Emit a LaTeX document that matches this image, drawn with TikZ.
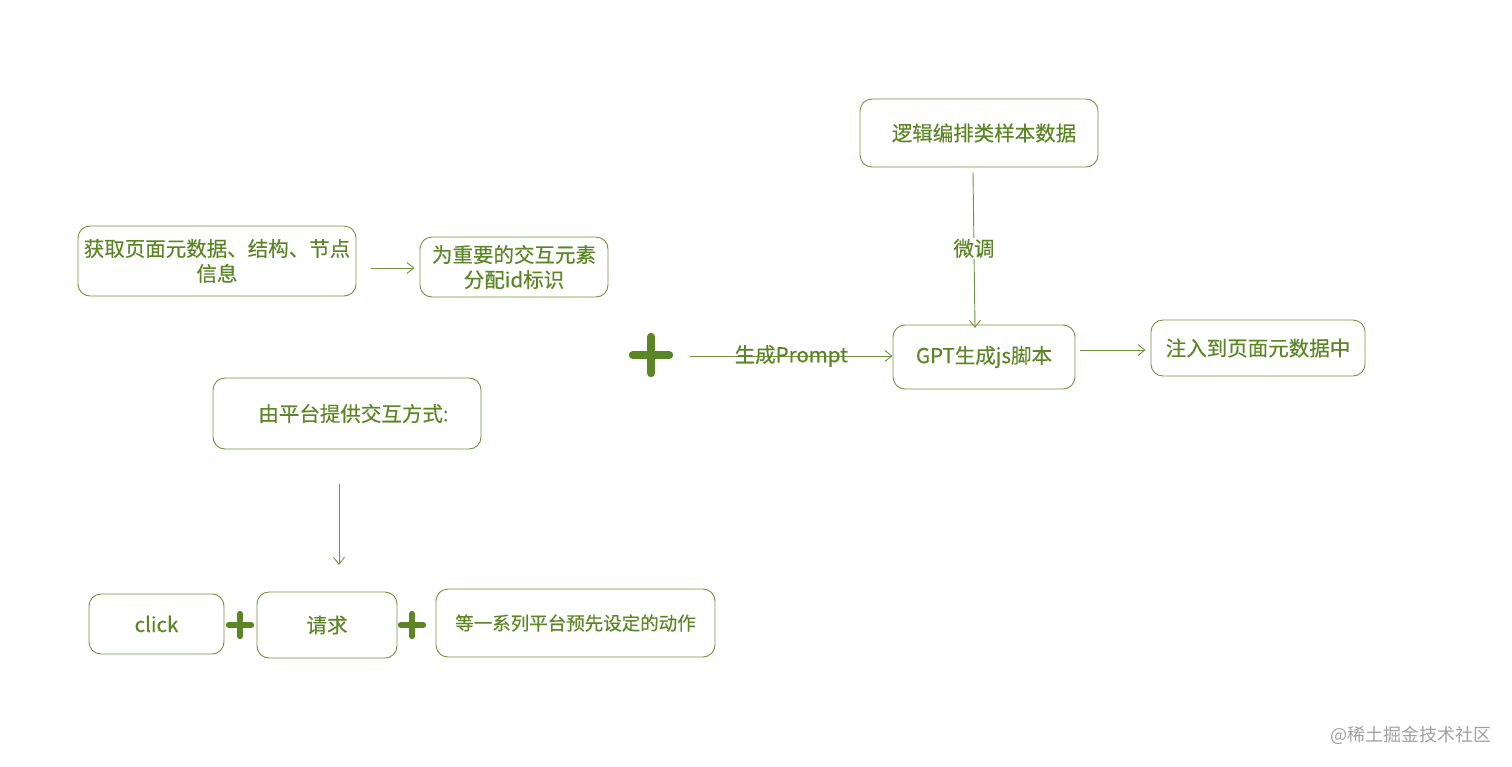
\documentclass[tikz,border=0pt]{standalone}
\usepackage{fontspec}
\setmainfont{Noto Sans CJK SC}[FakeBold=0.4]
\newfontfamily\wmfont{Noto Sans CJK SC}
\usetikzlibrary{arrows.meta}
\definecolor{gtxt}{RGB}{92,134,38}
\definecolor{gline}{RGB}{112,148,60}
\definecolor{wm}{RGB}{160,160,160}
\tikzset{
  box/.style={draw=gline, line width=0.9pt, rounded corners=12pt, text=gtxt, font=\fontsize{20.5}{25}\selectfont, align=center, inner sep=0pt},
  arr/.style={draw=gline, line width=0.9pt, -{Straight Barb[length=7pt,width=11pt]}},
  lbl/.style={text=gtxt, font=\fontsize{20.5}{25}\selectfont, inner sep=1pt},
  plus/.style={draw=gtxt, line cap=round},
}
\begin{document}
\begin{tikzpicture}[x=1pt,y=-1pt]
\useasboundingbox (0,0) rectangle (1512,766);
% boxes
\node[box, minimum width=278pt, minimum height=70pt] (A) at (217,261) {获取页面元数据、结构、节点\\信息};
\node[box, minimum width=188pt, minimum height=60pt] (B) at (514,267) {为重要的交互元素\\分配id标识};
\node[box, minimum width=268pt, minimum height=71pt] (C) at (347,413.5) {\hspace*{13pt}由平台提供交互方式:};
\node[box, minimum width=135pt, minimum height=60pt] (K) at (156.5,624) {click};
\node[box, minimum width=140pt, minimum height=66pt] (R) at (327,625) {请求};
\node[box, minimum width=279pt, minimum height=68pt, font=\fontsize{18.5}{22}\selectfont] (S) at (575.5,623) {等一系列平台预先设定的动作};
\node[box, minimum width=238pt, minimum height=68pt] (L) at (979,133) {\hspace*{10pt}逻辑编排类样本数据};
\node[box, minimum width=182pt, minimum height=64pt] (G) at (984,357) {GPT生成js脚本};
\node[box, minimum width=214pt, minimum height=56pt] (I) at (1258,348) {注入到页面元数据中};
% plus signs
\node[inner sep=0pt, minimum size=36pt] (P0) at (651,355) {};
\draw[plus, line width=8pt] (P0.north) -- (P0.south) (P0.west) -- (P0.east);
\node[inner sep=0pt, minimum size=22pt] (P1) at (240,625) {};
\draw[plus, line width=6pt] (P1.north) -- (P1.south) (P1.west) -- (P1.east);
\node[inner sep=0pt, minimum size=22pt] (P2) at (412,625) {};
\draw[plus, line width=6pt] (P2.north) -- (P2.south) (P2.west) -- (P2.east);
% connectors
\coordinate (a1) at (371,268);
\draw[arr] (a1) -- ([xshift=-5pt]B.west |- a1);
\coordinate (c1) at (339,484);
\coordinate (c2) at (339,565);
\draw[arr] (c1) -- (c2);
\coordinate (p1) at (690,356);
\draw[arr] (p1) -- (G.west |- p1) node[lbl, midway] {生成Prompt};
\coordinate (g1) at (1080,350);
\draw[arr] (g1) -- ([xshift=-5pt]I.west |- g1);
\coordinate (l1) at (973,172);
\draw[arr] (l1) -- (975,328) node[lbl, pos=0.49, fill=white] {微调};
% watermark
\node[text=wm, font=\wmfont\fontsize{18}{22}\selectfont, anchor=east, inner sep=0pt] (W) at (1492,735) {@稀土掘金技术社区};
\end{tikzpicture}
\end{document}
